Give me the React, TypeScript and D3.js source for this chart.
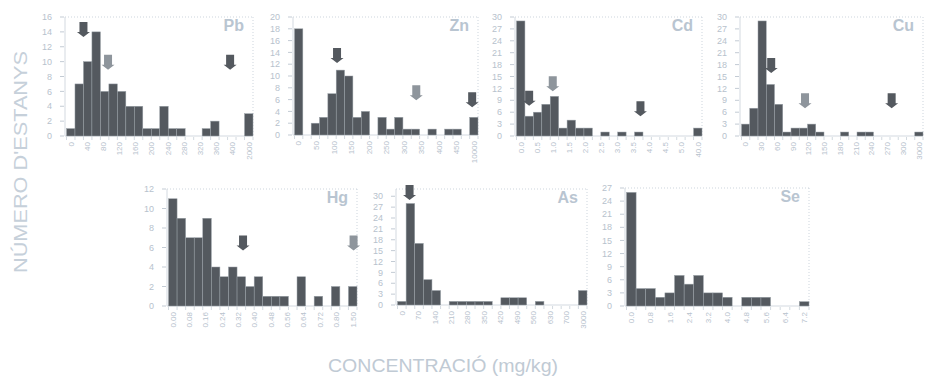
import React from "react";
import * as d3 from "d3";

// ---- data (counts per concentration bin) ----
const pbCounts = [1, 7, 10, 14, 6, 7, 6, 4, 4, 1, 1, 4, 1, 1, 0, 0, 1, 2, 0, 0, 0, 3];
const znCounts = [18, 0, 2, 3, 7, 11, 10, 3, 4, 0, 3, 1, 3, 1, 1, 0, 1, 0, 1, 1, 0, 3];
const cdCounts = [29, 5, 6, 8, 10, 2, 4, 2, 2, 0, 1, 0, 1, 0, 1, 0, 0, 0, 0, 0, 0, 2];
const cuCounts = [3, 7, 29, 13, 8, 1, 2, 2, 3, 1, 0, 0, 1, 0, 1, 1, 0, 0, 0, 0, 0, 1];
const hgCounts = [11, 9, 7, 7, 9, 4, 3, 4, 3, 2, 3, 1, 1, 1, 0, 3, 0, 1, 0, 2, 0, 2];
const asCounts = [1, 28, 17, 7, 4, 0, 1, 1, 1, 1, 1, 0, 2, 2, 2, 0, 1, 0, 0, 0, 0, 4];
const seCounts = [26, 4, 4, 2, 3, 7, 5, 7, 3, 3, 2, 0, 2, 2, 2, 0, 0, 0, 1];

// ---- tick labels ----
const pbTicks = ["0", "40", "80", "120", "160", "200", "240", "280", "320", "360", "400", "2000"];
const znTicks = ["0", "50", "100", "150", "200", "250", "300", "350", "400", "450", "10000"];
const cdTicks = ["0.0", "0.5", "1.0", "1.5", "2.0", "2.5", "3.0", "3.5", "4.0", "4.5", "5.0", "40.0"];
const cuTicks = ["0", "30", "60", "90", "120", "150", "180", "210", "240", "270", "300", "3000"];
const hgTicks = ["0.00", "0.08", "0.16", "0.24", "0.32", "0.40", "0.48", "0.56", "0.64", "0.72", "0.80", "1.50"];
const asTicks = ["0", "70", "140", "210", "280", "350", "420", "490", "560", "630", "700", "3000"];
const seTicks = ["0.0", "0.8", "1.6", "2.4", "3.2", "4.0", "4.8", "5.6", "6.4", "7.2"];

// ---- arrows: [bin position, count value at tip, tone] ----
type Arrow = [number, number, "dark" | "light"];
const pbArrows: Arrow[] = [[2.0, 13.3, "dark"], [4.9, 8.9, "light"], [19.3, 8.9, "dark"]];
const znArrows: Arrow[] = [[5.1, 12.2, "dark"], [14.6, 5.9, "light"], [21.3, 4.7, "dark"]];
const cdArrows: Arrow[] = [[1.5, 7.6, "dark"], [4.3, 11.3, "light"], [14.7, 5.0, "dark"]];
const cuArrows: Arrow[] = [[3.6, 15.9, "dark"], [7.7, 7.0, "light"], [18.2, 7.0, "dark"]];
const hgArrows: Arrow[] = [[8.7, 5.7, "dark"], [21.6, 5.7, "light"]];
const asArrows: Arrow[] = [[1.4, 29, "dark"]];
const seArrows: Arrow[] = [];

const yMaxes = { Pb: 16, Zn: 20, Cd: 30, Cu: 30, Hg: 12, As: 32, Se: 27 };
const ySteps = { Pb: 2, Zn: 2, Cd: 3, Cu: 3, Hg: 2, As: 3, Se: 3 };

const panels = [
  { name: "Pb", counts: pbCounts, ticks: pbTicks, arrows: pbArrows, box: [65, 253, 17, 136] },
  { name: "Zn", counts: znCounts, ticks: znTicks, arrows: znArrows, box: [293, 478, 17, 135] },
  { name: "Cd", counts: cdCounts, ticks: cdTicks, arrows: cdArrows, box: [515, 702, 17, 136] },
  { name: "Cu", counts: cuCounts, ticks: cuTicks, arrows: cuArrows, box: [740, 923, 17, 136] },
  { name: "Hg", counts: hgCounts, ticks: hgTicks, arrows: hgArrows, box: [167, 357, 189, 306] },
  { name: "As", counts: asCounts, ticks: asTicks, arrows: asArrows, box: [396, 587, 189, 305] },
  { name: "Se", counts: seCounts, ticks: seTicks, arrows: seArrows, box: [625, 809, 188, 306] },
];

const FONT = "'Liberation Sans', Arial, sans-serif";
const TXT = "#b7c2cd";
const BAR = "#54595f";

function Panel({ p }: { p: (typeof panels)[number] }) {
  const [left, right, top, bottom] = p.box;
  const n = p.counts.length;
  const yMax = (yMaxes as any)[p.name];
  const yStep = (ySteps as any)[p.name];
  const x = d3.scaleLinear().domain([0, n]).range([left + 1.5, right]);
  const y = d3.scaleLinear().domain([0, yMax]).range([bottom, top]);
  const yTicks = d3.range(0, yMax + 0.001, yStep);
  const tickPos = d3.scaleLinear().domain([0, p.ticks.length - 1]).range([0.5, n - 0.5]);

  return (
    <g>
      <line x1={left} x2={right} y1={top} y2={top} stroke="#cdd5dd" strokeDasharray="1,2" />
      <line x1={right} x2={right} y1={top} y2={bottom} stroke="#cdd5dd" strokeDasharray="1,2" />
      <line x1={left} x2={left} y1={top} y2={bottom} stroke="#d3d9e0" />
      <line x1={left} x2={right} y1={bottom} y2={bottom} stroke="#d3d9e0" />
      {yTicks.map((t) => (
        <g key={"y" + t}>
          <line x1={left - 5} x2={left - 1} y1={y(t)} y2={y(t)} stroke="#c3cbd4" />
          <text x={left - 13} y={y(t)} dy="0.35em" textAnchor="end" fontSize={9} fill={TXT} fontFamily={FONT}>
            {t}
          </text>
        </g>
      ))}
      {d3.range(0, n + 1).map((i) => (
        <line key={"xt" + i} x1={x(i)} x2={x(i)} y1={bottom + 1} y2={bottom + 4} stroke="#c8d0d8" strokeWidth={0.8} />
      ))}
      {p.counts.map((c, i) =>
        c > 0 ? (
          <rect
            key={"b" + i}
            x={x(i)}
            y={y(c)}
            width={x(i + 1) - x(i)}
            height={y(0) - y(c)}
            fill={BAR}
            stroke="#9aa1a8"
            strokeWidth={0.5}
          />
        ) : null
      )}
      {p.ticks.map((t, i) => {
        const tx = x(tickPos(i));
        const ty = bottom + 6;
        return (
          <text
            key={"xl" + i}
            transform={`translate(${tx},${ty}) rotate(-90)`}
            dy="0.35em"
            textAnchor="end"
            fontSize={8}
            fill={TXT}
            fontFamily={FONT}
          >
            {t}
          </text>
        );
      })}
      {p.arrows.map(([b, v, tone], i) => {
        const ax = x(b);
        const ay = y(v);
        const path = `M${ax - 4},${ay - 15} L${ax + 4},${ay - 15} L${ax + 4},${ay - 5} L${ax + 6.5},${ay - 5} L${ax},${ay} L${ax - 6.5},${ay - 5} L${ax - 4},${ay - 5} Z`;
        return <path key={"a" + i} d={path} fill={tone === "dark" ? "#54595f" : "#8e959c"} />;
      })}
      <text x={right - 9} y={top + 14} textAnchor="end" fontSize={16} fontWeight="bold" fill="#b9c5d1" fontFamily={FONT}>
        {p.name}
      </text>
    </g>
  );
}

export default function App() {
  return (
    <svg width={926} height={379} style={{ position: "absolute", left: 0, top: 0, background: "#fff" }}>
      <rect width={926} height={379} fill="#fff" />
      {panels.map((p) => (
        <Panel key={p.name} p={p} />
      ))}
      <text
        transform="translate(27,162) rotate(-90)"
        textAnchor="middle"
        fontSize={18}
        textLength={222}
        lengthAdjust="spacingAndGlyphs"
        fill="#c6d0da"
        fontFamily={FONT}
      >
        NÚMERO D'ESTANYS
      </text>
      <text
        x={443}
        y={372}
        textAnchor="middle"
        fontSize={19}
        textLength={230}
        lengthAdjust="spacingAndGlyphs"
        fill="#c0cad4"
        fontFamily={FONT}
      >
        CONCENTRACIÓ (mg/kg)
      </text>
    </svg>
  );
}
